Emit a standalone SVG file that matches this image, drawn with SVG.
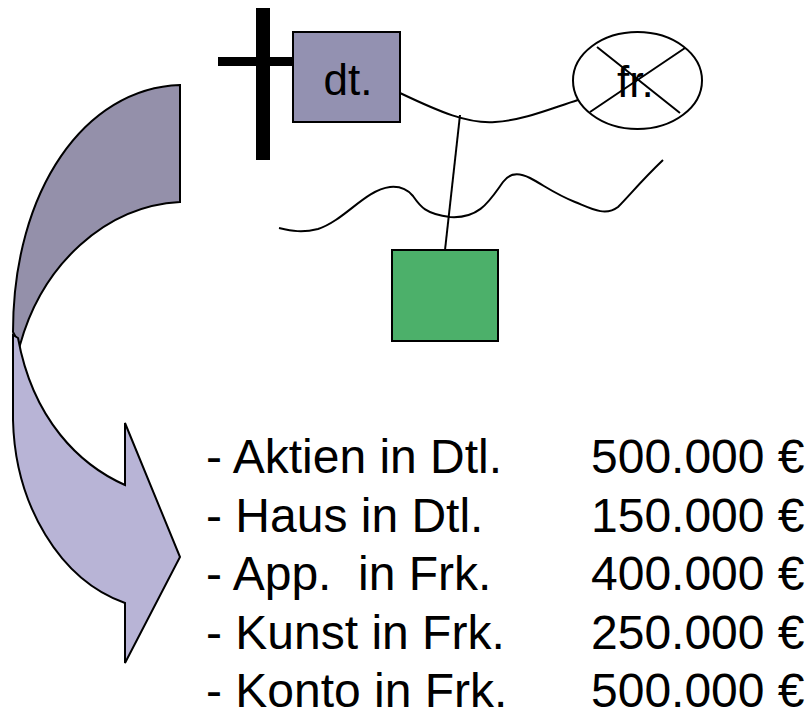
<svg xmlns="http://www.w3.org/2000/svg" width="810" height="718" viewBox="0 0 810 718">
<style>
.ln{fill:none;stroke:#000;stroke-width:2}
.sh{stroke:#000;stroke-width:2}
.t{font-family:"Liberation Sans",Arial,sans-serif;fill:#000}
.lst{font-size:48px;white-space:pre}
</style>
<rect width="810" height="718" fill="#fff"/>
<g id="arrow">
<path class="sh" fill="#9490aa" d="M180,85 L180,202 C105,206 42,265 20,345 L13,332 C13,190 85,88 180,85 Z"/>
<path class="sh" fill="#b8b4d6" stroke-linejoin="miter" d="M13,335 L13,420 C15,505 60,580 125,603 L125,663 L180,557 L125,423 L125,485 C80,465 33,420 18,338 Z"/>
</g>
<g id="connectors">
<path class="ln" d="M400,93 C440,112 468,124 495,122 C525,120 552,108 578,100"/>
<path class="ln" d="M460,115 L445,250"/>
<path class="ln" d="M279,228 C292,231 302,233 318,229 C345,220 365,190 390,187 C400,186 408,190 413,196 C420,206 425,214 450,217 C480,219 490,200 503,182 C510,172 520,173 530,178 C545,186 555,194 575,202 C590,208 605,217 618,207 C630,195 640,182 663,160"/>
</g>
<g id="cross">
<rect x="256" y="8" width="14" height="152" fill="#000"/>
<rect x="218" y="57" width="84" height="9" fill="#000"/>
</g>
<g id="node-dt">
<rect class="sh" x="293" y="32" width="107" height="90" fill="#9391b1"/>
<text class="t" x="348" y="95" font-size="44" text-anchor="middle">dt.</text>
</g>
<g id="node-fr">
<ellipse class="sh" cx="637.5" cy="80.5" rx="64.5" ry="48.5" fill="#fff"/>
<text class="t" x="617" y="97" font-size="44">fr.</text>
<path class="ln" d="M597,47 L680,113 M685,48 L590,112"/>
</g>
<g id="node-green">
<rect class="sh" x="392" y="250" width="106" height="91" fill="#4cb06a"/>
</g>
<g id="list" class="t lst">
<text x="206" y="473">- Aktien in Dtl.</text>
<text x="206" y="532">- Haus in Dtl.</text>
<text x="206" y="590" xml:space="preserve">- App.  in Frk.</text>
<text x="206" y="649">- Kunst in Frk.</text>
<text x="206" y="707">- Konto in Frk.</text>
<text x="591" y="473">500.000 €</text>
<text x="591" y="532">150.000 €</text>
<text x="591" y="590">400.000 €</text>
<text x="591" y="649">250.000 €</text>
<text x="591" y="707">500.000 €</text>
</g>
</svg>
